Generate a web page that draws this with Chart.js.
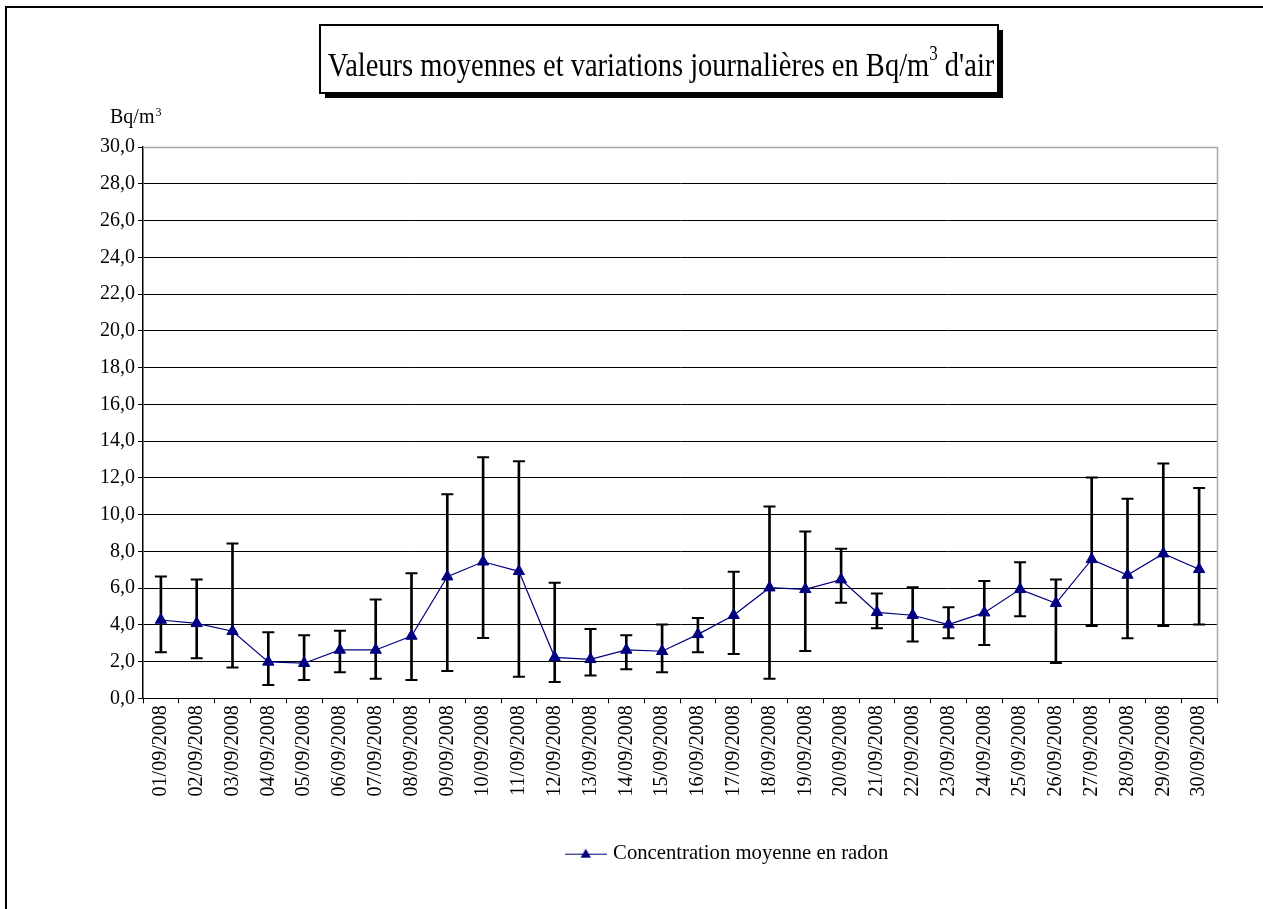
<!DOCTYPE html>
<html><head><meta charset="utf-8">
<script src="https://cdn.jsdelivr.net/npm/chart.js@4.4.1/dist/chart.umd.min.js"></script>
<style>html,body{margin:0;padding:0;background:#fff;}canvas{display:block;}</style>
</head><body>
<canvas id="c" width="1263" height="909"></canvas>
<script>
const categories = ['01/09/2008','02/09/2008','03/09/2008','04/09/2008','05/09/2008','06/09/2008','07/09/2008','08/09/2008','09/09/2008','10/09/2008',
  '11/09/2008','12/09/2008','13/09/2008','14/09/2008','15/09/2008','16/09/2008','17/09/2008','18/09/2008','19/09/2008','20/09/2008',
  '21/09/2008','22/09/2008','23/09/2008','24/09/2008','25/09/2008','26/09/2008','27/09/2008','28/09/2008','29/09/2008','30/09/2008'];
const meanValues = [4.26,4.08,3.65,1.98,1.91,2.63,2.63,3.39,6.62,7.43,6.91,2.23,2.12,2.63,2.56,3.48,4.52,6.02,5.93,6.46,4.68,4.52,4.01,4.66,5.93,5.17,7.56,6.71,7.87,7.02];
const maxValues = [6.63,6.47,8.43,3.59,3.43,3.67,5.37,6.80,11.11,13.12,12.90,6.29,3.77,3.43,4.01,4.37,6.89,10.44,9.08,8.14,5.70,6.04,4.95,6.38,7.40,6.47,12.02,10.86,12.78,11.44];
const minValues = [2.50,2.18,1.67,0.73,1.00,1.42,1.07,1.00,1.49,3.28,1.17,0.89,1.24,1.58,1.42,2.50,2.41,1.07,2.58,5.20,3.81,3.09,3.27,2.90,4.46,1.92,3.93,3.27,3.93,4.01];
const seriesName = 'Concentration moyenne en radon';
const titleParts = ['Valeurs moyennes et variations journalières en Bq/m', '3', " d'air"];
const yUnitParts = ['Bq/m', '3'];

const FONT = '"Liberation Serif", "Times New Roman", serif';
const NAVY = '#000080';

// legend symbol: line with triangle marker
const legendSym = document.createElement('canvas');
legendSym.width = 42; legendSym.height = 14;
(function(){
  const g = legendSym.getContext('2d');
  g.strokeStyle = NAVY; g.lineWidth = 1.2;
  g.beginPath(); g.moveTo(0, 7.5); g.lineTo(42, 7.5); g.stroke();
  g.fillStyle = NAVY;
  const r = 6, cx = 21, cy = 8;
  g.beginPath();
  g.moveTo(cx, cy - r);
  g.lineTo(cx + r * Math.sin(2*Math.PI/3), cy - r * Math.cos(2*Math.PI/3));
  g.lineTo(cx + r * Math.sin(4*Math.PI/3), cy - r * Math.cos(4*Math.PI/3));
  g.closePath(); g.fill();
})();

function stretchedText(ctx, text, x, baseline, sy) {
  ctx.save();
  ctx.translate(x, baseline);
  ctx.scale(1, sy);
  ctx.fillText(text, 0, 0);
  ctx.restore();
}

const decor = {
  id: 'decor',
  beforeDraw(chart) {
    const ctx = chart.ctx;
    ctx.save();
    ctx.fillStyle = '#fff';
    ctx.fillRect(0, 0, chart.width, chart.height);
    // outer frame (top & left)
    ctx.strokeStyle = '#000'; ctx.lineWidth = 2;
    ctx.beginPath(); ctx.moveTo(6, chart.height); ctx.lineTo(6, 7); ctx.lineTo(chart.width, 7); ctx.stroke();
    // title box with shadow
    ctx.fillStyle = '#000';
    ctx.fillRect(325, 30, 678, 68);
    ctx.fillStyle = '#fff';
    ctx.fillRect(320, 25, 678, 68);
    ctx.lineWidth = 2; ctx.strokeStyle = '#000';
    ctx.strokeRect(320, 25, 678, 68);
    // title text
    ctx.fillStyle = '#000';
    ctx.textBaseline = 'alphabetic'; ctx.textAlign = 'left';
    const big = '28.5px ' + FONT, small = '17px ' + FONT;
    ctx.font = big; const w1 = ctx.measureText(titleParts[0]).width; const w3 = ctx.measureText(titleParts[2]).width;
    ctx.font = small; const w2 = ctx.measureText(titleParts[1]).width;
    let x = 661 - (w1 + w2 + w3) / 2;
    ctx.font = big; stretchedText(ctx, titleParts[0], x, 76, 1.18); x += w1;
    ctx.font = small; stretchedText(ctx, titleParts[1], x, 60, 1.18); x += w2;
    ctx.font = big; stretchedText(ctx, titleParts[2], x, 76, 1.18);
    // y unit
    ctx.font = '20px ' + FONT;
    stretchedText(ctx, yUnitParts[0], 110, 123, 1.1);
    const wu = ctx.measureText(yUnitParts[0]).width;
    ctx.font = '12px ' + FONT;
    ctx.fillText(yUnitParts[1], 110 + wu + 1, 116);
    ctx.restore();
  },
  beforeDatasetsDraw(chart) {
    const ctx = chart.ctx, a = chart.chartArea;
    ctx.save();
    ctx.strokeStyle = '#a8a8a8'; ctx.lineWidth = 1.5;
    ctx.beginPath();
    ctx.moveTo(a.left, a.top + 0.5); ctx.lineTo(a.right + 0.5, a.top + 0.5); ctx.lineTo(a.right + 0.5, a.bottom);
    ctx.stroke();
    ctx.restore();
  },
  afterLayout(chart) {
    const lg = chart.legend;
    if (lg) { const shift = 120; lg.left += shift; lg.right += shift; }
  }
};

const ranges = minValues.map((v, i) => [v, maxValues[i]]);

new Chart(document.getElementById('c'), {
  data: {
    labels: categories,
    datasets: [
      {
        type: 'line', label: seriesName, data: meanValues, order: 0,
        borderColor: NAVY, borderWidth: 1.2, tension: 0, fill: false,
        pointStyle: 'triangle', pointRadius: 6.5, pointBackgroundColor: NAVY, pointBorderColor: NAVY, pointBorderWidth: 1,
        pointHoverRadius: 6.5
      },
      {
        type: 'bar', label: 'range', data: ranges, order: 3, grouped: false,
        backgroundColor: '#000', borderWidth: 0, barThickness: 2
      },
      {
        type: 'line', label: 'max', data: maxValues, order: 2, showLine: false,
        pointStyle: 'line', pointRadius: 6, pointBorderColor: '#000', pointBorderWidth: 2, pointHoverRadius: 6
      },
      {
        type: 'line', label: 'min', data: minValues, order: 2, showLine: false,
        pointStyle: 'line', pointRadius: 6, pointBorderColor: '#000', pointBorderWidth: 2, pointHoverRadius: 6
      }
    ]
  },
  options: {
    responsive: false, animation: false, devicePixelRatio: 1,
    layout: { padding: { left: 0, top: 147, right: 46, bottom: 35 } },
    plugins: {
      title: { display: false },
      tooltip: { enabled: false },
      legend: {
        position: 'bottom',
        labels: {
          font: { family: FONT, size: 20.7 }, color: '#000', padding: 10,
          usePointStyle: true, pointStyleWidth: 34,
          filter: (item) => item.datasetIndex === 0,
          generateLabels: (chart) => [{
            text: seriesName, datasetIndex: 0, pointStyle: legendSym,
            fillStyle: NAVY, strokeStyle: NAVY, lineWidth: 0, fontColor: '#000'
          }]
        }
      }
    },
    scales: {
      x: {
        type: 'category', offset: true,
        grid: { display: true, offset: true, drawOnChartArea: false, drawTicks: true, tickLength: 5, color: '#000', lineWidth: 1 },
        border: { display: true, color: '#000', width: 1 },
        ticks: { autoSkip: false, maxRotation: 90, minRotation: 90, padding: 2, color: '#000', font: { family: FONT, size: 20 } },
        afterFit: (s) => { s.height = 135; }
      },
      y: {
        min: 0, max: 30,
        grid: { color: '#000', lineWidth: 1, tickLength: 5, drawTicks: true },
        border: { display: true, color: '#000', width: 1.5 },
        ticks: { stepSize: 2, padding: 3, color: '#000', font: { family: FONT, size: 20 },
          callback: (v) => Number(v).toFixed(1).replace('.', ',') },
        afterFit: (s) => { s.width = 143; }
      }
    }
  },
  plugins: [decor]
});
</script>
</body></html>
